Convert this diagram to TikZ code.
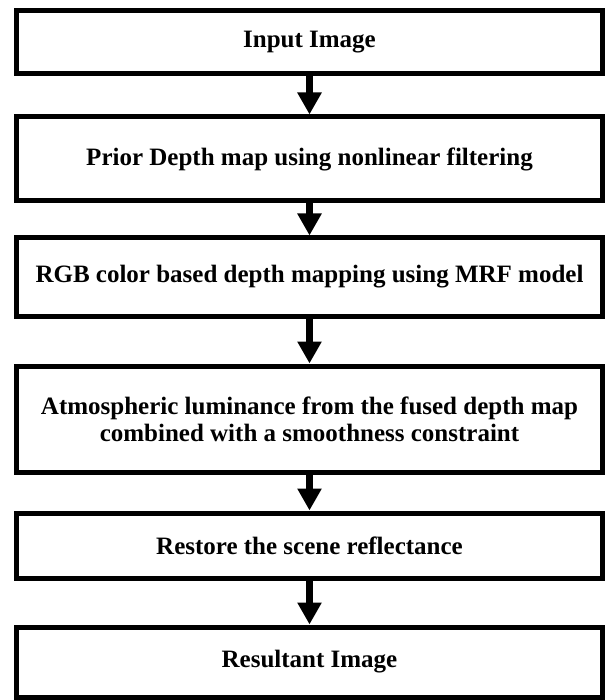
\documentclass[tikz,border=0pt]{standalone}
\usepackage{fontspec}
\setmainfont{Liberation Serif}
\usetikzlibrary{arrows.meta}
\begin{document}
\begin{tikzpicture}
[x=1pt,y=-1pt,
stage/.style={draw,line width=5pt,minimum width=586pt,inner sep=0pt,align=center,
  font=\fontsize{25}{27}\selectfont\bfseries},
flow/.style={-{Triangle[width=23pt,length=22pt]},line width=7pt}]
\useasboundingbox (0,0) rectangle (608,700);

\node[stage,minimum height=63pt] (input) at (309.5,42.5) {Input Image};
\node[stage,minimum height=84pt] (prior) at (309.5,159) {Prior Depth map using nonlinear filtering};
\node[stage,minimum height=78pt] (rgb) at (309.5,277) {RGB color based depth mapping using MRF model};
\node[stage,minimum height=106pt] (atmo) at (309.5,419) {Atmospheric luminance from the fused depth map\\combined with a smoothness constraint};
\node[stage,minimum height=65pt] (restore) at (309.5,545.5) {Restore the scene reflectance};
\node[stage,minimum height=70pt] (result) at (309.5,662) {Resultant Image};

\draw[flow] (input) -- (prior);
\draw[flow] (prior) -- (rgb);
\draw[flow] (rgb) -- (atmo);
\draw[flow] (atmo) -- (restore);
\draw[flow] (restore) -- (result);
\end{tikzpicture}
\end{document}
